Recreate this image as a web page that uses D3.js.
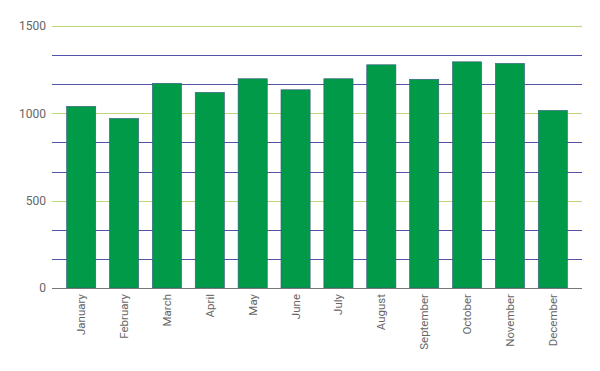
<!DOCTYPE html>
<html>
<head>
<meta charset="utf-8">
<script src="https://cdn.jsdelivr.net/npm/d3@7"></script>
<style>
	body { margin: 0; background: #fff; }
	svg text { font-family: Roboto, "Noto Sans", sans-serif; }
</style>
</head>
<body>
<div id="chart"></div>
<script>

// data
var months = ["January","February","March","April","May","June","July","August","September","October","November","December"];
var values = [1040, 971, 1172, 1120, 1198, 1135, 1198, 1278, 1195, 1295, 1286, 1017];
var majorTicks = [0, 500, 1000, 1500];
var minorTicks = [500/3, 1000/3, 2000/3, 2500/3, 3500/3, 4000/3];

var width = 600, height = 371;
var margin = { top: 26, right: 18, bottom: 83, left: 52 };

var svg = d3.select("#chart").append("svg")
	.attr("width", width)
	.attr("height", height);

var xScale = d3.scaleBand()
	.domain(months)
	.range([margin.left, width - margin.right])
	.paddingInner(0.32)
	.paddingOuter(0.34);

var yScale = d3.scaleLinear()
	.domain([0, 1500])
	.range([height - margin.bottom, margin.top]);

// gridlines (behind the bars)
var grid = svg.append("g");

grid.selectAll("line.minor")
	.data(minorTicks).enter()
	.append("line")
		.attr("class", "minor")
		.attr("x1", margin.left)
		.attr("x2", width - margin.right)
		.attr("y1", function(d){ return Math.round(yScale(d)) + 0.5 })
		.attr("y2", function(d){ return Math.round(yScale(d)) + 0.5 })
		.attr("stroke", "#5252a8")
		.attr("stroke-width", 1);

grid.selectAll("line.major")
	.data(majorTicks.filter(function(d){ return d > 0 })).enter()
	.append("line")
		.attr("class", "major")
		.attr("x1", margin.left)
		.attr("x2", width - margin.right)
		.attr("y1", function(d){ return Math.round(yScale(d)) + 0.5 })
		.attr("y2", function(d){ return Math.round(yScale(d)) + 0.5 })
		.attr("stroke", "#bcd67a")
		.attr("stroke-width", 1);

// bars
svg.append("g").selectAll("rect")
	.data(values).enter()
	.append("rect")
		.attr("x", function(d,i){ return xScale(months[i]) })
		.attr("y", function(d){ return yScale(d) })
		.attr("width", xScale.bandwidth())
		.attr("height", function(d){ return yScale(0) - yScale(d) })
		.attr("fill", "#009a49")
		.attr("stroke", "#3a5a80")
		.attr("stroke-width", 0.6);

// y axis labels
var yAxis = d3.axisLeft(yScale).tickValues(majorTicks).tickFormat(d3.format("d")).tickSize(0).tickPadding(6);
var yg = svg.append("g")
	.attr("transform", "translate(" + margin.left + ",0)")
	.call(yAxis);
yg.select(".domain").remove();
yg.selectAll("text")
	.attr("fill", "#666")
	.style("font-size", "12px");

// x axis
var xAxis = d3.axisBottom(xScale).tickSize(0).tickPadding(0);
var xg = svg.append("g")
	.attr("transform", "translate(0," + yScale(0) + ")")
	.call(xAxis);
xg.select(".domain")
	.attr("stroke", "#777")
	.attr("d", "M" + margin.left + ",0.5H" + (width - margin.right));
xg.selectAll("text")
	.attr("fill", "#666")
	.style("font-size", "11.5px")
	.style("text-anchor", "end")
	.attr("transform", "rotate(-90)")
	.attr("x", -6)
	.attr("y", 0)
	.attr("dy", "0.35em");

</script>
</body>
</html>
